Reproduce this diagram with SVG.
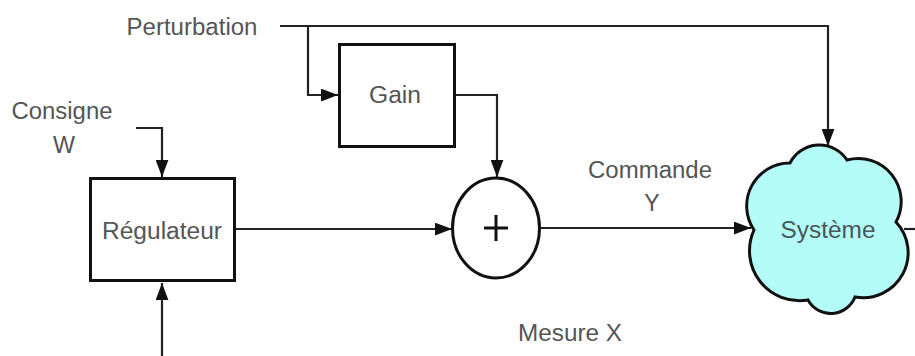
<svg xmlns="http://www.w3.org/2000/svg" width="915" height="356" viewBox="0 0 915 356">
<style>
.box{fill:#fff;stroke:#111;stroke-width:3}
.ln{fill:none;stroke:#222;stroke-width:2.2}
.t{font-family:"Liberation Sans",Arial,sans-serif;font-size:23px;fill:#555;text-anchor:middle}
</style>
<defs>
<marker id="arr" viewBox="0 0 16 12" refX="16" refY="6" markerWidth="17" markerHeight="13" markerUnits="userSpaceOnUse" orient="auto">
<path d="M0,0 L16,6 L0,12 z" fill="#111"/>
</marker>
</defs>
<rect width="915" height="356" fill="#fff"/>
<g id="connectors">
<path class="ln" d="M280,26 H828 V146" marker-end="url(#arr)"/>
<path class="ln" d="M308,26 V95 H338" marker-end="url(#arr)"/>
<path class="ln" d="M455,95 H497 V177" marker-end="url(#arr)"/>
<path class="ln" d="M136,128 H162 V177" marker-end="url(#arr)"/>
<path class="ln" d="M236,229 H452" marker-end="url(#arr)"/>
<path class="ln" d="M541,228 H751" marker-end="url(#arr)"/>
<path class="ln" d="M162,356 V283" marker-end="url(#arr)"/>
<path class="ln" d="M904,229 H915"/>
</g>
<g id="perturbation"><text class="t" x="192" y="35" textLength="131" lengthAdjust="spacingAndGlyphs">Perturbation</text></g>
<g id="consigne"><text class="t" x="62" y="119" textLength="101" lengthAdjust="spacingAndGlyphs">Consigne</text><text class="t" x="64" y="153" textLength="22" lengthAdjust="spacingAndGlyphs">W</text></g>
<g id="gain"><rect class="box" x="339.5" y="44.5" width="115" height="102"/><text class="t" x="395" y="103" textLength="52" lengthAdjust="spacingAndGlyphs">Gain</text></g>
<g id="regulateur"><rect class="box" x="90.5" y="178.5" width="144" height="102"/><text class="t" x="162" y="239" textLength="120" lengthAdjust="spacingAndGlyphs">Régulateur</text></g>
<g id="sommateur"><ellipse cx="496" cy="228" rx="43.5" ry="50" fill="#fff" stroke="#111" stroke-width="3"/><path d="M484,228 H508 M496,215 V241" stroke="#111" stroke-width="3"/></g>
<g id="commande"><text class="t" x="650" y="178" textLength="124" lengthAdjust="spacingAndGlyphs">Commande</text><text class="t" x="652" y="211">Y</text></g>
<g id="systeme"><path d="M754,230 A43,43 0 0 1 790,163 A33,33 0 0 1 847,160 A43,43 0 0 1 896,222 A45,45 0 0 1 855,297 A26,26 0 0 1 808,300 A50,50 0 0 1 754,230 Z" fill="#b3fcf7" stroke="#111" stroke-width="3"/><text class="t" x="828" y="238" textLength="95" lengthAdjust="spacingAndGlyphs" style="fill:#4a5858">Système</text></g>
<g id="mesure"><text class="t" x="570" y="341" textLength="104" lengthAdjust="spacingAndGlyphs">Mesure X</text></g>
</svg>
